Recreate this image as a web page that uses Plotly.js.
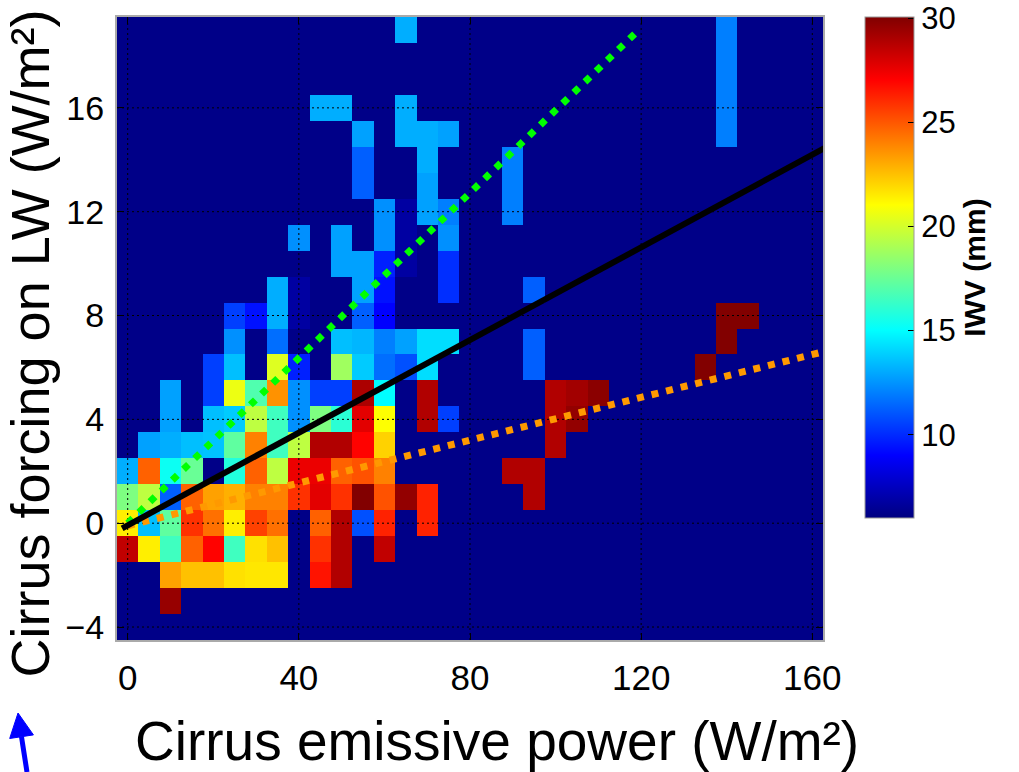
<!DOCTYPE html>
<html>
<head>
<meta charset="utf-8">
<script src="https://cdn.plot.ly/plotly-3.0.1.min.js"></script>
<style>
  html, body { margin: 0; padding: 0; background: #ffffff; }
  #chart { width: 1019px; height: 772px; }
</style>
</head>
<body>
<div id="chart"></div>
<script>
// ---- Bin centres (cirrus emissive power, W/m2) and (cirrus LW forcing, W/m2)
const powerBins = [0,5,10,15,20,25,30,35,40,45,50,55,60,65,70,75,80,85,90,95,100,105,110,115,120,125,130,135,140,145,150,155,160];
const forcingBins = [-4,-3,-2,-1,0,1,2,3,4,5,6,7,8,9,10,11,12,13,14,15,16,17,18,19];

// ---- Occupied cells: x (power), y (forcing), colour value (IWV, mm)
const cellPower = [
  65,140,
  140,
  140,
  45,50,65,140,
  55,65,70,75,140,
  55,70,90,
  55,70,90,
  60,65,70,75,90,
  40,50,60,65,75,
  50,55,60,65,75,
  35,40,55,60,75,95,
  25,30,35,40,55,60,140,145,
  25,35,50,55,60,65,70,75,95,140,
  20,25,35,40,50,55,60,65,70,95,135,
  10,20,25,30,35,40,45,50,55,60,70,100,105,110,
  10,20,25,30,35,40,45,50,55,60,70,75,100,105,
  5,10,15,20,25,30,35,40,45,50,55,60,100,
  0,5,10,15,25,30,35,40,45,50,55,60,90,95,
  0,5,10,15,20,25,30,35,40,45,50,55,60,65,70,95,
  0,5,10,15,20,25,30,35,45,50,55,60,70,
  0,5,10,15,20,25,30,35,45,50,60,
  10,15,20,25,30,35,45,50,
  10
];
const cellForcing = [
  19,19,
  18,
  17,
  16,16,16,16,
  15,15,15,15,15,
  14,14,14,
  13,13,13,
  12,12,12,12,12,
  11,11,11,11,11,
  10,10,10,10,10,
  9,9,9,9,9,9,
  8,8,8,8,8,8,8,8,
  7,7,7,7,7,7,7,7,7,7,
  6,6,6,6,6,6,6,6,6,6,6,
  5,5,5,5,5,5,5,5,5,5,5,5,5,5,
  4,4,4,4,4,4,4,4,4,4,4,4,4,4,
  3,3,3,3,3,3,3,3,3,3,3,3,3,
  2,2,2,2,2,2,2,2,2,2,2,2,2,2,
  1,1,1,1,1,1,1,1,1,1,1,1,1,1,1,1,
  0,0,0,0,0,0,0,0,0,0,0,0,0,
  -1,-1,-1,-1,-1,-1,-1,-1,-1,-1,-1,
  -2,-2,-2,-2,-2,-2,-2,-2,
  -3
];
const cellIWV = [
  13.1,12.0,
  12.0,
  12.0,
  13.1,13.1,13.1,12.0,
  12.8,13.1,13.1,12.8,12.0,
  11.25,13.1,12.0,
  11.25,12.8,12.0,
  12.4,6.8,12.8,12.0,12.0,
  12.4,12.8,12.4,6.8,12.4,
  12.8,12.8,9.75,6.8,10.1,
  13.1,6.8,12.8,9.4,10.1,11.25,
  10.5,9.4,13.1,6.8,11.25,9.0,30,30,
  12.4,11.6,13.5,13.3,12.0,12.8,14.25,14.25,11.25,30,
  10.5,13.5,20.25,9.75,18.8,13.8,11.6,10.9,14.25,11.25,30,
  12.8,10.5,20.6,16.9,23.6,12.4,10.5,10.5,29.0,15.0,28.9,28.9,29.25,29.8,
  12.8,13.5,13.8,19.5,16.5,12.4,18.0,16.0,27.7,21.0,28.9,10.5,28.9,29.6,
  12.8,13.1,13.5,13.6,17.25,24.0,16.5,19.5,28.9,28.9,27.0,22.1,28.9,
  13.1,24.75,15.3,17.5,15.8,24.75,19.5,27.5,27.5,24.75,25.1,24.0,28.9,28.9,
  18.0,19.5,11.25,24.75,23.25,22.9,24.0,24.0,25.9,27.7,25.9,30,25.1,29.6,26.25,28.9,
  21.4,13.5,17.25,25.9,24.4,21.4,25.5,24.4,24.75,28.9,10.9,26.25,26.25,
  28.5,21.4,16.5,24.75,27.0,16.5,21.75,22.5,25.9,28.9,28.5,
  23.25,22.5,22.5,21.75,21.6,21.6,26.6,28.9,
  29.5
];

// ---- Fit lines
const blackFitX = [-1.3, 163.4];
const blackFitY = [-0.2, 14.5];
const greenFitX = [0, 118.8];
const greenFitY = [0, 18.9];
const orangeFitX = [0, 162.5];
const orangeFitY = [-0.1, 6.6];

// ---- Axes
const xTicks = [0, 40, 80, 120, 160];
const yTicks = [-4, 0, 4, 8, 12, 16];
const xRange = [-2.5, 162.5];
const yRange = [-4.5, 19.5];
const cbTicks = [10, 15, 20, 25, 30];
const iwvMin = 6, iwvMax = 30;

const xTitle = 'Cirrus emissive power (W/m²)';
const yTitle = 'Cirrus forcing on LW (W/m²)';
const cbTitle = 'IWV (mm)';

// build the grid table
const zGrid = forcingBins.map(() => powerBins.map(() => null));
for (let i = 0; i < cellIWV.length; i++) {
  const r = forcingBins.indexOf(cellForcing[i]);
  const c = powerBins.indexOf(cellPower[i]);
  if (r >= 0 && c >= 0) zGrid[r][c] = cellIWV[i];
}

const jet = [
  [0, '#000080'], [0.125, '#0000ff'], [0.375, '#00ffff'],
  [0.625, '#ffff00'], [0.875, '#ff0000'], [1, '#800000']
];

const FONT = 'Arial, "Liberation Sans", Helvetica, sans-serif';

const heat = {
  type: 'heatmap',
  x: powerBins, y: forcingBins, z: zGrid,
  zmin: iwvMin, zmax: iwvMax + 0.05,
  colorscale: jet,
  zsmooth: false,
  hoverinfo: 'skip',
  colorbar: {
    x: 1.0595, xanchor: 'left', xref: 'paper',
    y: 1.0, yanchor: 'top',
    thickness: 49, thicknessmode: 'pixels',
    len: 501, lenmode: 'pixels',
    xpad: 0, ypad: 0,
    outlinecolor: '#999', outlinewidth: 1,
    tickvals: cbTicks,
    ticklabeloverflow: 'allow',
    ticks: 'inside', ticklen: 6, tickcolor: '#000',
    tickfont: { family: FONT, size: 31, color: '#000' },
    title: { text: cbTitle, side: 'right', font: { family: FONT, size: 30, color: '#000', weight: 'bold' } }
  }
};

// dotted grid drawn over the image
const gx = [], gy = [];
xTicks.forEach(t => { gx.push(t, t, null); gy.push(yRange[0], yRange[1], null); });
yTicks.forEach(t => { gx.push(xRange[0], xRange[1], null); gy.push(t, t, null); });
const grid = {
  type: 'scatter', mode: 'lines', x: gx, y: gy, hoverinfo: 'skip', showlegend: false,
  line: { color: '#000000', width: 1, dash: '2px,3px' }
};

const green = {
  type: 'scatter', mode: 'lines', x: greenFitX, y: greenFitY, hoverinfo: 'skip', showlegend: false,
  line: { color: '#00ff00', width: 7, dash: '7px,8.5px' }
};
const orange = {
  type: 'scatter', mode: 'lines', x: orangeFitX, y: orangeFitY, hoverinfo: 'skip', showlegend: false,
  line: { color: '#ff9900', width: 7, dash: '7px,8px' }
};
const black = {
  type: 'scatter', mode: 'lines', x: blackFitX, y: blackFitY, hoverinfo: 'skip', showlegend: false,
  line: { color: '#000000', width: 6 }
};

// small blue pointer arrow in the lower-left corner (paper coordinates)
const arrowShaft = { x0: -0.1275, y0: -0.2119, x1: -0.1353, y1: -0.1552 };
const arrowHead = 'M -0.1402 -0.1172 L -0.1184 -0.1523 L -0.1520 -0.1581 Z';

const layout = {
  width: 1019, height: 772,
  margin: { l: 117, r: 196, t: 17, b: 132 },
  paper_bgcolor: '#ffffff',
  plot_bgcolor: '#000088',
  showlegend: false,
  font: { family: FONT, color: '#000' },
  xaxis: {
    range: xRange, tickvals: xTicks,
    ticks: 'inside', ticklen: 7, tickcolor: '#000',
    showgrid: false, zeroline: false,
    showline: true, linecolor: '#aaaaaa', linewidth: 2, mirror: 'ticks',
    tickfont: { family: FONT, size: 35, color: '#000' },
    ticklabelstandoff: 6
  },
  yaxis: {
    range: yRange, tickvals: yTicks,
    ticks: 'inside', ticklen: 7, tickcolor: '#000',
    showgrid: false, zeroline: false,
    showline: true, linecolor: '#aaaaaa', linewidth: 2, mirror: 'ticks',
    tickfont: { family: FONT, size: 34, color: '#000' },
    ticklabelstandoff: 4
  },
  annotations: [
    { xref: 'paper', yref: 'paper', x: 0.5382, y: -0.162, xanchor: 'center', yanchor: 'middle',
      text: xTitle, showarrow: false, font: { family: FONT, size: 55, color: '#000' } },
    { xref: 'paper', yref: 'paper', x: -0.1232, y: 0.476, xanchor: 'center', yanchor: 'middle',
      text: yTitle, textangle: -90, showarrow: false, font: { family: FONT, size: 54, color: '#000' } }
  ],
  shapes: [
    { type: 'line', xref: 'paper', yref: 'paper', x0: arrowShaft.x0, y0: arrowShaft.y0, x1: arrowShaft.x1, y1: arrowShaft.y1,
      line: { color: '#0000ff', width: 5 } },
    { type: 'path', xref: 'paper', yref: 'paper', path: arrowHead, fillcolor: '#0000ff', line: { color: '#0000ff', width: 1 } }
  ]
};

Plotly.newPlot('chart', [heat, grid, green, orange, black], layout, { displayModeBar: false, staticPlot: true });
</script>
</body>
</html>
